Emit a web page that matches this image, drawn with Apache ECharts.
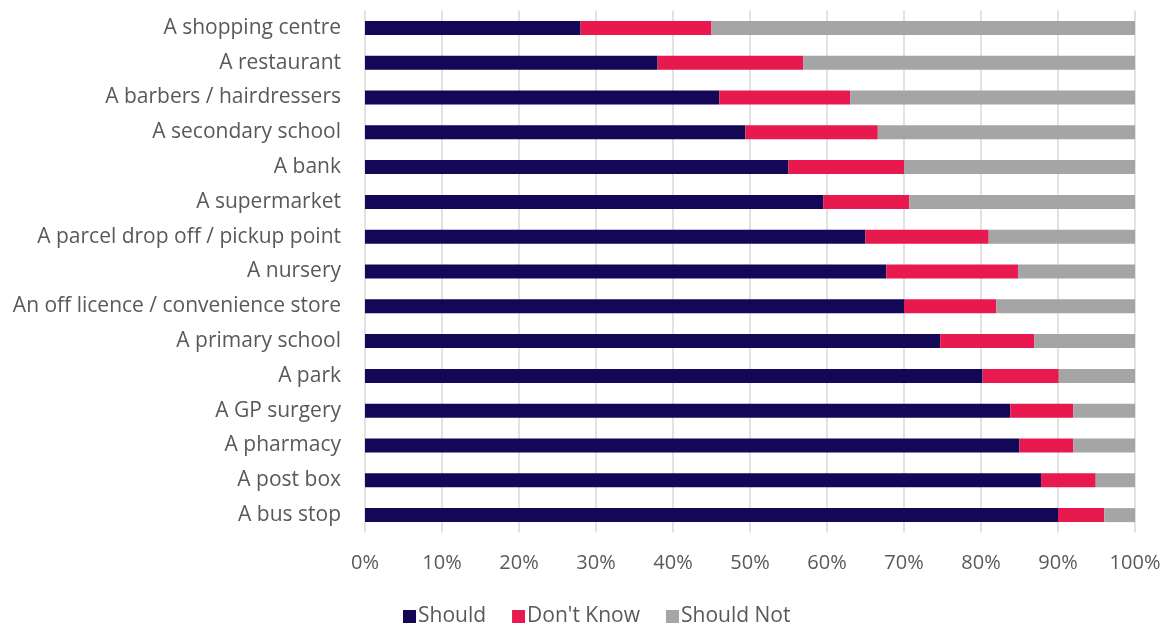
<!DOCTYPE html>
<html><head><meta charset="utf-8">
<script src="https://cdn.jsdelivr.net/npm/echarts@6/dist/echarts.min.js"></script>
<style>html,body{margin:0;padding:0;background:#fff}#c{width:1169px;height:625px}</style>
</head><body><div id="c"></div>
<script>
const categories = ["A shopping centre","A restaurant","A barbers / hairdressers","A secondary school","A bank","A supermarket","A parcel drop off / pickup point","A nursery","An off licence / convenience store","A primary school","A park","A GP surgery","A pharmacy","A post box","A bus stop"];
const shouldVals = [28, 38, 46, 49.4, 55, 59.5, 65, 67.7, 70, 74.7, 80.2, 83.8, 85, 87.8, 90];
const dontKnowVals = [17, 18.9, 17, 17.2, 15, 11.2, 16, 17.1, 12, 12.2, 9.9, 8.2, 7, 7.1, 6];
const shouldNotVals = [55, 43.1, 37, 33.4, 30, 29.3, 19, 15.2, 18, 13.1, 9.9, 8, 8, 5.1, 4];
const seriesNames = ["Should", "Don't Know", "Should Not"];
const colors = ["#140757", "#E8194E", "#A5A5A5"];
const font = "'Open Sans', sans-serif";
const chart = echarts.init(document.getElementById('c'));
const mk = (name, data, color) => ({
  name, type: 'bar', stack: 'total', data, barWidth: 14,
  itemStyle: {color}, emphasis: {disabled: true}
});
chart.setOption({
  animation: false,
  color: colors,
  grid: {left: 365, right: 34, top: 10.5, bottom: 92.5},
  legend: {
    data: seriesNames, top: 601, left: 398,
    itemWidth: 13, itemHeight: 13, itemGap: 26, icon: 'rect',
    textStyle: {color: '#595959', fontSize: 21, fontFamily: font, padding: [0,0,0,-3]}
  },
  xAxis: {
    type: 'value', min: 0, max: 100, interval: 10,
    axisLabel: {formatter: '{value}%', color: '#595959', fontSize: 20, fontFamily: font, margin: 21},
    axisLine: {show: false}, axisTick: {show: false},
    splitLine: {lineStyle: {color: '#D9D9D9', width: 1.5}}
  },
  yAxis: {
    type: 'category', data: categories, inverse: true,
    axisLabel: {color: '#595959', fontSize: 21, fontFamily: font, margin: 24},
    axisLine: {show: false}, axisTick: {show: false}
  },
  series: [
    mk(seriesNames[0], shouldVals, colors[0]),
    mk(seriesNames[1], dontKnowVals, colors[1]),
    mk(seriesNames[2], shouldNotVals, colors[2])
  ]
});
</script></body></html>
